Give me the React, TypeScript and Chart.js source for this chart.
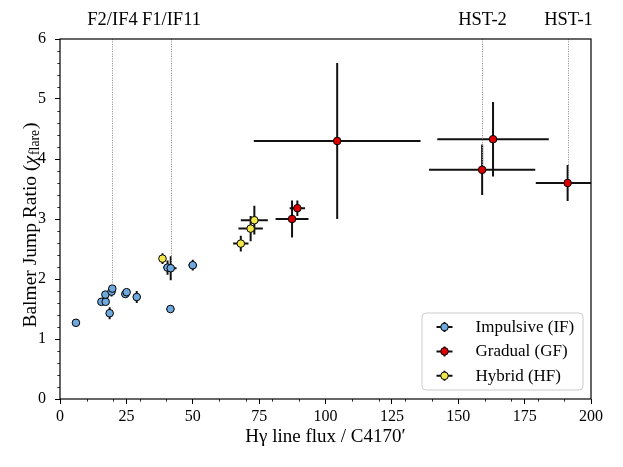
import React, { useEffect, useRef } from 'react';
import { Chart, registerables } from 'chart.js';

Chart.register(...registerables);

// ---------- data ----------
const impulsiveX = [6.0, 15.6, 17.2, 17.1, 18.7, 19.4, 19.7, 24.6, 25.1, 28.9, 40.5, 41.7, 41.6, 50.0];
const impulsiveY = [1.27, 1.62, 1.62, 1.74, 1.43, 1.79, 1.84, 1.75, 1.78, 1.70, 2.19, 2.18, 1.50, 2.23];
const impulsiveXErr = [0.6, 0.6, 0.6, 0.6, 0.7, 0.6, 0.6, 0.7, 0.7, 0.7, 1.6, 2.2, 1.4, 1.6];
const impulsiveYErr = [0.03, 0.04, 0.04, 0.05, 0.10, 0.08, 0.05, 0.04, 0.04, 0.10, 0.12, 0.20, 0.05, 0.09];

const gradualX = [87.4, 89.4, 104.4, 159.0, 163.1, 191.2];
const gradualY = [3.00, 3.18, 4.30, 3.82, 4.33, 3.60];
const gradualXErr = [6.2, 2.9, 31.4, 20.0, 21.0, 12.0];
const gradualYErr = [0.31, 0.13, 1.30, 0.42, 0.62, 0.30];

const hybridX = [38.6, 68.1, 71.8, 73.2];
const hybridY = [2.34, 2.59, 2.84, 2.98];
const hybridXErr = [0.8, 2.9, 4.6, 5.1];
const hybridYErr = [0.09, 0.13, 0.21, 0.24];

const flareNames = ['F2/IF4', 'F1/IF11', 'HST-2', 'HST-1'];
const flareX = [19.7, 41.7, 159.0, 191.2];
const flareY = [1.84, 2.18, 3.82, 3.60];

const seriesLabels = ['Impulsive (IF)', 'Gradual (GF)', 'Hybrid (HF)'];
const seriesColors = ['#6fa8dc', '#dd0000', '#f3e84a'];

const xTitle = 'H\u03b3 line flux / C4170\u2032';
const yTitleMain = 'Balmer Jump Ratio (';
const yTitleChi = '\u03c7';
const yTitleSub = 'flare';
const yTitleEnd = ')';

const SERIF = "'Liberation Serif', 'Times New Roman', serif";

const pts = (xs: number[], ys: number[]) => xs.map((x, i) => ({ x, y: ys[i] }));

// ---------- plugins ----------
const errorBarPlugin = {
  id: 'errorBars',
  beforeDatasetDraw(chart: any, args: any) {
    const ds = chart.data.datasets[args.index];
    const { ctx, chartArea: ca, scales } = chart;
    const xs = scales.x, ys = scales.y;
    ctx.save();
    ctx.beginPath();
    ctx.rect(ca.left, ca.top, ca.right - ca.left, ca.bottom - ca.top);
    ctx.clip();
    ctx.strokeStyle = '#111';
    ctx.lineWidth = 2;
    ds.data.forEach((p: any, i: number) => {
      const px = xs.getPixelForValue(p.x);
      const py = ys.getPixelForValue(p.y);
      const ex = ds.errX[i], ey = ds.errY[i];
      ctx.beginPath();
      ctx.moveTo(xs.getPixelForValue(p.x - ex), py);
      ctx.lineTo(xs.getPixelForValue(p.x + ex), py);
      ctx.moveTo(px, ys.getPixelForValue(p.y - ey));
      ctx.lineTo(px, ys.getPixelForValue(p.y + ey));
      ctx.stroke();
    });
    ctx.restore();
  },
};

const refLinePlugin = {
  id: 'refLines',
  afterDatasetsDraw(chart: any) {
    const { ctx, chartArea: ca, scales } = chart;
    const xs = scales.x, ys = scales.y;
    ctx.save();
    flareNames.forEach((name, i) => {
      const px = Math.round(xs.getPixelForValue(flareX[i])) + 0.5;
      const py = ys.getPixelForValue(flareY[i]);
      ctx.strokeStyle = '#9a9a9a';
      ctx.lineWidth = 1;
      ctx.setLineDash([1.2, 1.2]);
      ctx.beginPath();
      ctx.moveTo(px, ca.top);
      ctx.lineTo(px, py - 4);
      ctx.stroke();
      ctx.setLineDash([]);
      ctx.fillStyle = '#000';
      ctx.font = `18.5px ${SERIF}`;
      ctx.textAlign = 'center';
      ctx.textBaseline = 'alphabetic';
      ctx.fillText(name, px, ca.top - 14);
    });
    ctx.restore();
  },
};

const decorPlugin = {
  id: 'decor',
  afterDraw(chart: any) {
    const { ctx, chartArea: ca, scales } = chart;
    const xs = scales.x, ys = scales.y;
    ctx.save();
    // minor ticks
    ctx.strokeStyle = '#000';
    ctx.lineWidth = 0.8;
    ctx.beginPath();
    for (let v = 10; v < 200; v += 10) {
      if (v % 25 === 0) continue;
      const px = Math.round(xs.getPixelForValue(v)) + 0.5;
      ctx.moveTo(px, ca.bottom);
      ctx.lineTo(px, ca.bottom + 2.7);
    }
    for (let k = 1; k < 30; k++) {
      if (k % 5 === 0) continue;
      const py = Math.round(ys.getPixelForValue(k * 0.2)) + 0.5;
      ctx.moveTo(ca.left, py);
      ctx.lineTo(ca.left - 2.7, py);
    }
    ctx.stroke();
    // frame
    ctx.lineWidth = 1.2;
    ctx.strokeRect(ca.left, ca.top, ca.right - ca.left, ca.bottom - ca.top);

    // y-axis title with subscript
    const size = 19.5;
    const fMain = `${size}px ${SERIF}`;
    const fChi = `italic ${size}px ${SERIF}`;
    const fSub = `${size * 0.7}px ${SERIF}`;
    ctx.font = fMain;
    const w1 = ctx.measureText(yTitleMain).width;
    const w4 = ctx.measureText(yTitleEnd).width;
    ctx.font = fChi;
    const w2 = ctx.measureText(yTitleChi).width;
    ctx.font = fSub;
    const w3 = ctx.measureText(yTitleSub).width;
    const total = w1 + w2 + w3 + w4 + 2;
    const cy = (ca.top + ca.bottom) / 2 + 6;
    ctx.translate(31, cy);
    ctx.rotate(-Math.PI / 2);
    ctx.fillStyle = '#000';
    ctx.textAlign = 'left';
    ctx.textBaseline = 'middle';
    let x = -total / 2;
    ctx.font = fMain;
    ctx.fillText(yTitleMain, x, 0);
    x += w1;
    ctx.font = fChi;
    ctx.fillText(yTitleChi, x, 0);
    x += w2 + 1;
    ctx.font = fSub;
    ctx.fillText(yTitleSub, x, 4);
    x += w3 + 1;
    ctx.font = fMain;
    ctx.fillText(yTitleEnd, x, 0);
    ctx.restore();

    // legend
    ctx.save();
    const bw = 161, bh = 77;
    const bx = ca.right - 8 - bw;
    const by = ca.bottom - 9 - bh;
    const r = 4;
    ctx.beginPath();
    ctx.moveTo(bx + r, by);
    ctx.lineTo(bx + bw - r, by);
    ctx.quadraticCurveTo(bx + bw, by, bx + bw, by + r);
    ctx.lineTo(bx + bw, by + bh - r);
    ctx.quadraticCurveTo(bx + bw, by + bh, bx + bw - r, by + bh);
    ctx.lineTo(bx + r, by + bh);
    ctx.quadraticCurveTo(bx, by + bh, bx, by + bh - r);
    ctx.lineTo(bx, by + r);
    ctx.quadraticCurveTo(bx, by, bx + r, by);
    ctx.closePath();
    ctx.fillStyle = 'rgba(255,255,255,0.85)';
    ctx.fill();
    ctx.strokeStyle = '#cccccc';
    ctx.lineWidth = 1;
    ctx.stroke();
    chart.data.datasets.forEach((ds: any, i: number) => {
      const cyR = by + 14 + i * 24.4;
      const ix = bx + 22.5;
      ctx.strokeStyle = '#111';
      ctx.lineWidth = 2;
      ctx.beginPath();
      ctx.moveTo(ix - 8, cyR);
      ctx.lineTo(ix + 8, cyR);
      ctx.moveTo(ix, cyR - 5);
      ctx.lineTo(ix, cyR + 5);
      ctx.stroke();
      ctx.beginPath();
      ctx.arc(ix, cyR, 3.8, 0, Math.PI * 2);
      ctx.fillStyle = ds.backgroundColor;
      ctx.fill();
      ctx.strokeStyle = '#000';
      ctx.lineWidth = 1;
      ctx.stroke();
      ctx.fillStyle = '#000';
      ctx.font = `17px ${SERIF}`;
      ctx.textAlign = 'left';
      ctx.textBaseline = 'middle';
      ctx.fillText(ds.label, bx + 53.5, cyR + 0.5);
    });
    ctx.restore();
  },
};

// ---------- component ----------
export default function App() {
  const ref = useRef<HTMLCanvasElement>(null);

  useEffect(() => {
    document.body.style.margin = '0';
    const mk = (i: number, xs: number[], ys: number[], ex: number[], ey: number[], order: number) => ({
      label: seriesLabels[i],
      data: pts(xs, ys),
      errX: ex,
      errY: ey,
      backgroundColor: seriesColors[i],
      borderColor: '#000',
      pointBackgroundColor: seriesColors[i],
      pointBorderColor: '#000',
      pointBorderWidth: 1,
      pointRadius: 3.8,
      pointHoverRadius: 3.8,
      showLine: false,
      order,
    });

    const chart = new Chart(ref.current as HTMLCanvasElement, {
      type: 'scatter',
      data: {
        datasets: [
          mk(0, impulsiveX, impulsiveY, impulsiveXErr, impulsiveYErr, 2),
          mk(1, gradualX, gradualY, gradualXErr, gradualYErr, 1),
          mk(2, hybridX, hybridY, hybridXErr, hybridYErr, 0),
        ] as any,
      },
      options: {
        animation: false,
        responsive: true,
        maintainAspectRatio: false,
        layout: { padding: { top: 39, right: 32, left: 0, bottom: 0 } },
        plugins: {
          legend: { display: false },
          tooltip: { enabled: false },
        },
        scales: {
          x: {
            type: 'linear',
            min: 0,
            max: 200,
            border: { display: false },
            grid: { drawOnChartArea: false, drawTicks: true, tickLength: 5, tickColor: '#000', tickWidth: 1 },
            ticks: {
              stepSize: 25,
              autoSkip: false,
              maxRotation: 0,
              color: '#000',
              padding: 3,
              font: { family: SERIF, size: 16 },
            },
            title: {
              display: true,
              text: xTitle,
              color: '#000',
              font: { family: SERIF, size: 19 },
              padding: { top: 0, bottom: 19 },
            },
            afterFit: (s: any) => { s.height = 68; },
          },
          y: {
            type: 'linear',
            min: 0,
            max: 6,
            border: { display: false },
            grid: { drawOnChartArea: false, drawTicks: true, tickLength: 5, tickColor: '#000', tickWidth: 1 },
            ticks: {
              stepSize: 1,
              autoSkip: false,
              color: '#000',
              padding: 9,
              font: { family: SERIF, size: 16 },
            },
            afterFit: (s: any) => { s.width = 60; },
          },
        },
      } as any,
      plugins: [errorBarPlugin, refLinePlugin, decorPlugin],
    });
    return () => chart.destroy();
  }, []);

  return (
    <div style={{ width: 623, height: 467, position: 'relative' }}>
      <canvas ref={ref} />
    </div>
  );
}
